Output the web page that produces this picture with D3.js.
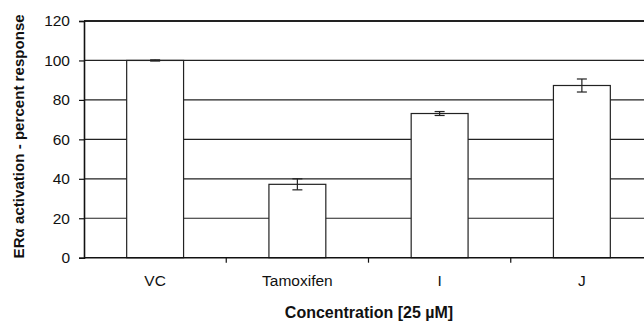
<!DOCTYPE html>
<html>
<head>
<meta charset="utf-8">
<script src="https://cdn.jsdelivr.net/npm/d3@7"></script>
<style>
  body { margin: 0; background: #fff; }
  text { font-family: "Liberation Sans", Arial, sans-serif; fill: #111; }
</style>
</head>
<body>
<svg id="chart" width="644" height="323"></svg>
<script>
var categories = ['VC', 'Tamoxifen', 'I', 'J'];
var values = [100, 37.2, 73.1, 87.3];
var errors = [0.3, 2.8, 1.0, 3.3];
var yTicks = [0, 20, 40, 60, 80, 100, 120];

var margin = { left: 84, top: 21, right: -9, bottom: 65 };
var width = 644, height = 323;

var svg = d3.select('#chart');

var x = d3.scaleBand()
    .domain(categories)
    .range([margin.left, width - margin.right])
    .paddingInner(0.6)
    .paddingOuter(0.3);

var y = d3.scaleLinear()
    .domain([0, 120])
    .range([height - margin.bottom - 0.3, margin.top]);

// horizontal grid lines
svg.append('g').selectAll('line')
    .data(yTicks.filter(function (d) { return d > 0; }))
    .enter().append('line')
    .attr('x1', margin.left)
    .attr('x2', width)
    .attr('y1', function (d) { return y(d); })
    .attr('y2', function (d) { return y(d); })
    .style('stroke', '#222')
    .style('stroke-width', function (d) { return d === 120 ? 2 : 1.2; });

// bars
svg.append('g').selectAll('rect')
    .data(categories)
    .enter().append('rect')
    .attr('x', function (d) { return x(d); })
    .attr('width', x.bandwidth())
    .attr('y', function (d, i) { return y(values[i]); })
    .attr('height', function (d, i) { return y(0) - y(values[i]); })
    .style('fill', '#fff')
    .style('stroke', '#222')
    .style('stroke-width', 1.2);

// error bars
var eb = svg.append('g').selectAll('g')
    .data(categories)
    .enter().append('g')
    .style('stroke', '#222')
    .style('stroke-width', 1.2);
eb.append('line')
    .attr('x1', function (d) { return x(d) + x.bandwidth() / 2; })
    .attr('x2', function (d) { return x(d) + x.bandwidth() / 2; })
    .attr('y1', function (d, i) { return y(values[i] - errors[i]); })
    .attr('y2', function (d, i) { return y(values[i] + errors[i]); });
[-1, 1].forEach(function (s) {
  eb.append('line')
      .attr('x1', function (d) { return x(d) + x.bandwidth() / 2 - 5; })
      .attr('x2', function (d) { return x(d) + x.bandwidth() / 2 + 5; })
      .attr('y1', function (d, i) { return y(values[i] + s * errors[i]); })
      .attr('y2', function (d, i) { return y(values[i] + s * errors[i]); });
});

// y axis
var yAxis = svg.append('g')
    .attr('transform', 'translate(' + margin.left + ',0)')
    .call(d3.axisLeft(y).tickValues(yTicks).tickSize(5).tickPadding(9));
yAxis.select('.domain').style('stroke', '#111').style('stroke-width', 1.6);
yAxis.selectAll('.tick line').style('stroke', '#111').style('stroke-width', 1.2);
yAxis.selectAll('.tick text')
    .style('font-size', '15.5px')
    .style('font-family', '"Liberation Sans", Arial, sans-serif')
    .style('fill', '#111');

// x axis
var step = x.step();
var xAxis = svg.append('g')
    .attr('transform', 'translate(0,' + y(0) + ')')
    .call(d3.axisBottom(x).tickSize(0).tickPadding(17));
xAxis.select('.domain').remove();
svg.append('line')
    .attr('x1', margin.left).attr('x2', width)
    .attr('y1', y(0)).attr('y2', y(0))
    .style('stroke', '#111').style('stroke-width', 1.6);
xAxis.selectAll('.tick text')
    .style('font-size', '15.5px')
    .style('font-family', '"Liberation Sans", Arial, sans-serif')
    .style('fill', '#111');
// category separator ticks
svg.append('g').selectAll('line')
    .data(categories.slice(0, -1))
    .enter().append('line')
    .attr('x1', function (d) { return x(d) + x.bandwidth() / 2 + step / 2; })
    .attr('x2', function (d) { return x(d) + x.bandwidth() / 2 + step / 2; })
    .attr('y1', y(0))
    .attr('y2', y(0) + 5)
    .style('stroke', '#111')
    .style('stroke-width', 1.2);

// axis titles
svg.append('text')
    .attr('transform', 'translate(24,' + ((margin.top + y(0)) / 2 - 3) + ') rotate(-90)')
    .attr('text-anchor', 'middle')
    .style('font-size', '15.1px')
    .style('font-weight', 'bold')
    .text('ERα activation - percent response');

svg.append('text')
    .attr('x', 369)
    .attr('y', 318)
    .attr('text-anchor', 'middle')
    .style('font-size', '16px')
    .style('font-weight', 'bold')
    .text('Concentration [25 µM]');
</script>
</body>
</html>
